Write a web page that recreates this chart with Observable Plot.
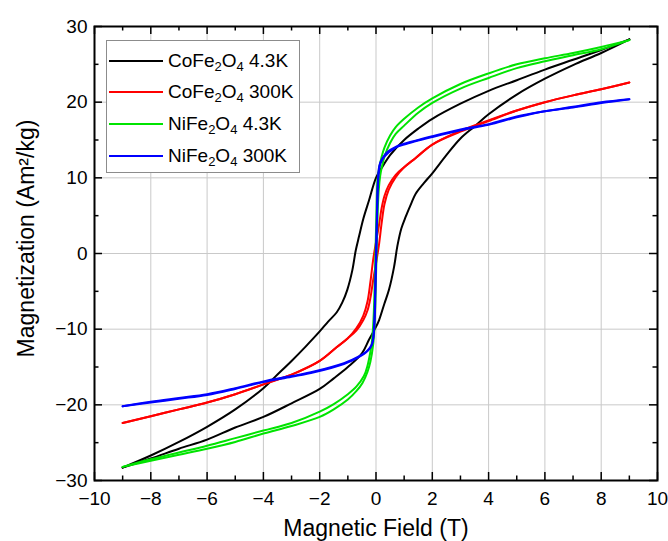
<!DOCTYPE html>
<html><head><meta charset="utf-8">
<script src="https://cdn.jsdelivr.net/npm/d3@7"></script>
<script src="https://cdn.jsdelivr.net/npm/@observablehq/plot@0.6"></script>
<style>
body{margin:0;background:#fff;overflow:hidden}
#wrap{position:relative;width:668px;height:541px;font-family:'Liberation Sans',Arial,sans-serif}
#legend{position:absolute;left:106px;top:40px;width:194px;height:133px;border:1px solid #8c8c8c;background:#fff;box-sizing:border-box}
.ln{position:absolute;left:2px;width:54px;height:2px}
.tx{position:absolute;left:61px;font-size:19px;line-height:22px;white-space:nowrap;color:#000}
.tx sub{font-size:13px;vertical-align:-4px;line-height:0}
</style></head>
<body><div id="wrap"></div>
<script>
// ---- labels ----
const compounds = ["CoFe2O4", "CoFe2O4", "NiFe2O4", "NiFe2O4"];
const temps = ["4.3K", "300K", "4.3K", "300K"];
const colors = ["#000000", "#ff0000", "#00e400", "#0000ff"];
const xTicks = [-10, -8, -6, -4, -2, 0, 2, 4, 6, 8, 10];
const xMinor = [-9, -7, -5, -3, -1, 1, 3, 5, 7, 9];
const yTicks = [-30, -20, -10, 0, 10, 20, 30];
const yMinor = [-25, -15, -5, 5, 15, 25];
const xLabel = "Magnetic Field (T)";
const yLabel = "Magnetization (Am²/kg)";

// ---- CoFe2O4 4.3K ----
const coFe4Down = [[9,28.3],[8,26.9],[7,25.6],[6,24.3],[5,22.9],[4,21.5],[3,19.8],[2,17.8],[1.5,16.5],[1,15.0],[0.5,13.0],[0.25,11.6],[0,10.0],[-0.25,7.0],[-0.45,4.6],[-0.6,2.3],[-0.72,0.4],[-0.84,-2.2],[-1.02,-4.8],[-1.2,-6.5],[-1.4,-7.8],[-1.7,-9.0],[-2,-10.3],[-2.5,-12.3],[-3,-14.2],[-3.5,-16.0],[-4,-17.8],[-5,-20.6],[-6,-22.9],[-7,-24.9],[-8,-26.7],[-9,-28.3]];
const coFe4Up = [[-9,-28.3],[-8,-27.1],[-7,-25.8],[-6,-24.6],[-5,-23.0],[-4,-21.6],[-3,-19.8],[-2,-17.9],[-1.5,-16.5],[-1,-15.0],[-0.5,-13.2],[-0.25,-11.4],[0,-9.7],[0.11,-8.8],[0.3,-6.6],[0.46,-4.8],[0.64,-1.8],[0.76,1.0],[0.9,3.3],[1.06,4.9],[1.25,6.6],[1.41,7.9],[1.7,9.3],[2,10.6],[2.5,13.0],[3,15.2],[3.5,16.8],[4,18.4],[5,21.0],[6,23.1],[7,24.9],[8,26.5],[9,28.3]];
// ---- CoFe2O4 300K ----
const coFe300Down = [[9,22.6],[8,21.7],[7,20.9],[6,20.0],[5,18.9],[4,17.5],[3,16.1],[2,14.4],[1.4,12.6],[1,11.4],[0.7,10.4],[0.45,9.0],[0.3,7.6],[0.2,6.0],[0.1,3.6],[0,1.5],[-0.1,-0.8],[-0.2,-3.8],[-0.3,-6.3],[-0.45,-8.2],[-0.7,-9.9],[-1,-11.2],[-1.4,-12.4],[-2,-14.2],[-2.8,-15.7],[-3.7,-16.9],[-5,-18.6],[-6,-19.7],[-7,-20.6],[-8,-21.5],[-9,-22.4]];
const coFe300Up = [[-9,-22.4],[-8,-21.5],[-7,-20.6],[-6,-19.7],[-5,-18.6],[-4,-17.3],[-3,-16.0],[-2,-14.2],[-1.4,-12.4],[-1,-11.2],[-0.7,-10.2],[-0.45,-8.8],[-0.3,-7.5],[-0.2,-5.9],[-0.1,-3.5],[0,-1.3],[0.1,1.0],[0.2,4.0],[0.3,6.5],[0.45,8.4],[0.7,10.1],[1,11.4],[1.4,12.6],[2,14.4],[2.8,15.9],[3.7,17.2],[5,18.9],[6,20.0],[7,20.9],[8,21.7],[9,22.6]];
// ---- NiFe2O4 4.3K ----
const niFe4Down = [[9,28.2],[8,27.3],[7,26.5],[6,25.8],[5,25.0],[4,23.8],[3,22.4],[2,20.5],[1.5,19.3],[1,17.8],[0.7,16.7],[0.5,15.6],[0.3,14.0],[0.2,12.8],[0.1,11.0],[0.05,9.5],[0.02,6],[0,3],[-0.02,0],[-0.04,-3],[-0.07,-7],[-0.1,-9.5],[-0.15,-11.8],[-0.2,-13.0],[-0.3,-14.8],[-0.43,-16.2],[-0.7,-17.6],[-1,-18.6],[-1.5,-19.9],[-2,-20.9],[-3,-22.4],[-4,-23.4],[-5,-24.4],[-6,-25.4],[-7,-26.3],[-8,-27.2],[-9,-28.2]];
const niFe4Up = [[-9,-28.2],[-8,-27.4],[-7,-26.6],[-6,-25.8],[-5,-24.9],[-4,-23.8],[-3,-22.8],[-2,-21.6],[-1.5,-20.6],[-1,-19.3],[-0.7,-18.2],[-0.48,-17.1],[-0.3,-15.6],[-0.2,-14.3],[-0.1,-12.0],[-0.05,-9.5],[-0.02,-6],[0,-3],[0.02,0],[0.04,3],[0.07,6.5],[0.1,8.5],[0.15,10.3],[0.2,11.3],[0.3,12.8],[0.5,14.6],[0.7,15.8],[1,16.9],[1.5,18.6],[2,19.9],[3,21.8],[4,23.2],[5,24.5],[6,25.4],[7,26.2],[8,27.0],[9,28.2]];
// ---- NiFe2O4 300K ----
const niFe300Down = [[9,20.4],[8,20.0],[7,19.4],[6,18.8],[5,18.1],[4,17.1],[3,16.4],[2,15.5],[1,14.5],[0.7,14.1],[0.4,13.4],[0.25,12.7],[0.15,12.0],[0.1,11.2],[0.06,9],[0.03,5],[0,0],[-0.03,-5],[-0.06,-9],[-0.1,-11.2],[-0.15,-12.0],[-0.3,-12.8],[-0.66,-13.7],[-1.14,-14.5],[-2.2,-15.6],[-3,-16.2],[-4,-16.9],[-5,-17.8],[-6,-18.6],[-7,-19.1],[-8,-19.6],[-9,-20.2]];
const niFe300Up = [[-9,-20.2],[-8,-19.7],[-7,-19.2],[-6,-18.7],[-5,-17.9],[-4,-17.0],[-3,-16.3],[-2.2,-15.7],[-1.14,-14.6],[-0.66,-13.8],[-0.3,-12.9],[-0.15,-12.1],[-0.1,-11.3],[-0.05,-9],[-0.02,-5],[0.01,0],[0.04,5],[0.07,9],[0.11,11.1],[0.16,11.9],[0.3,12.8],[0.7,14.0],[1,14.4],[2,15.4],[3,16.3],[4,17.0],[5,18.0],[6,18.8],[7,19.3],[8,19.9],[9,20.4]];

const names = compounds.map((c, i) => c + " " + temps[i]);
const branches = [
  [0, "down", coFe4Down], [0, "up", coFe4Up],
  [1, "down", coFe300Down], [1, "up", coFe300Up],
  [2, "down", niFe4Down], [2, "up", niFe4Up],
  [3, "down", niFe300Down], [3, "up", niFe300Up]
];
const rows = branches.flatMap(([s, b, pts]) => pts.map(([x, y]) => ({series: names[s], key: names[s] + "-" + b, x, y})));

const W = 668, H = 541, mT = 26, mB = 61, mL = 94, mR = 11;
const FH = H - mT - mB, FW = W - mL - mR;
const major = 8, minor = 4.5;

const chart = Plot.plot({
  width: W, height: H,
  marginTop: mT, marginBottom: mB, marginLeft: mL, marginRight: mR,
  x: {domain: [-10, 10]},
  y: {domain: [-30, 30]},
  color: {domain: names, range: colors},
  style: {fontFamily: "'Liberation Sans', Arial, sans-serif", fontSize: "19px", background: "#fff", color: "#000", overflow: "visible"},
  marks: [
    Plot.gridX(xTicks, {stroke: "#c9c9c9", strokeOpacity: 1, strokeWidth: 1}),
    Plot.gridY(yTicks, {stroke: "#c9c9c9", strokeOpacity: 1, strokeWidth: 1}),
    Plot.line(rows, {x: "x", y: "y", z: "key", stroke: "series", strokeWidth: 2, curve: "catmull-rom"}),
    Plot.tickX(xTicks, {x: d => d, insetTop: FH - major, stroke: "#000", strokeWidth: 1.5}),
    Plot.tickX(xTicks, {x: d => d, insetBottom: FH - major, stroke: "#000", strokeWidth: 1.5}),
    Plot.tickX(xMinor, {x: d => d, insetTop: FH - minor, stroke: "#000", strokeWidth: 1.5}),
    Plot.tickX(xMinor, {x: d => d, insetBottom: FH - minor, stroke: "#000", strokeWidth: 1.5}),
    Plot.tickY(yTicks, {y: d => d, insetRight: FW - major, stroke: "#000", strokeWidth: 1.5}),
    Plot.tickY(yTicks, {y: d => d, insetLeft: FW - major, stroke: "#000", strokeWidth: 1.5}),
    Plot.tickY(yMinor, {y: d => d, insetRight: FW - minor, stroke: "#000", strokeWidth: 1.5}),
    Plot.tickY(yMinor, {y: d => d, insetLeft: FW - minor, stroke: "#000", strokeWidth: 1.5}),
    Plot.frame({stroke: "#000", strokeWidth: 2}),
    Plot.axisX(xTicks, {tickSize: 0, tickPadding: 11, label: null, fontSize: 19}),
    Plot.axisY(yTicks, {tickSize: 0, tickPadding: 7, label: null, fontSize: 19}),
    Plot.text([xLabel], {frameAnchor: "bottom", textAnchor: "middle", dy: 48, fontSize: 23, lineAnchor: "middle"}),
    Plot.text([yLabel], {frameAnchor: "left", textAnchor: "middle", rotate: -90, dx: -68, dy: -15, fontSize: 23, lineAnchor: "middle"})
  ]
});
const wrap = document.getElementById("wrap");
wrap.appendChild(chart);

// legend overlay
const legend = document.createElement("div");
legend.id = "legend";
const centers = [19.5, 51, 83, 115];
names.forEach((n, i) => {
  const ln = document.createElement("div");
  ln.className = "ln";
  ln.style.top = (centers[i] - 1) + "px";
  ln.style.background = colors[i];
  legend.appendChild(ln);
  const tx = document.createElement("div");
  tx.className = "tx";
  tx.style.top = (centers[i] - 11) + "px";
  tx.innerHTML = compounds[i].replace(/(\d)/g, "<sub>$1</sub>") + " " + temps[i];
  legend.appendChild(tx);
});
wrap.appendChild(legend);
</script></body></html>
